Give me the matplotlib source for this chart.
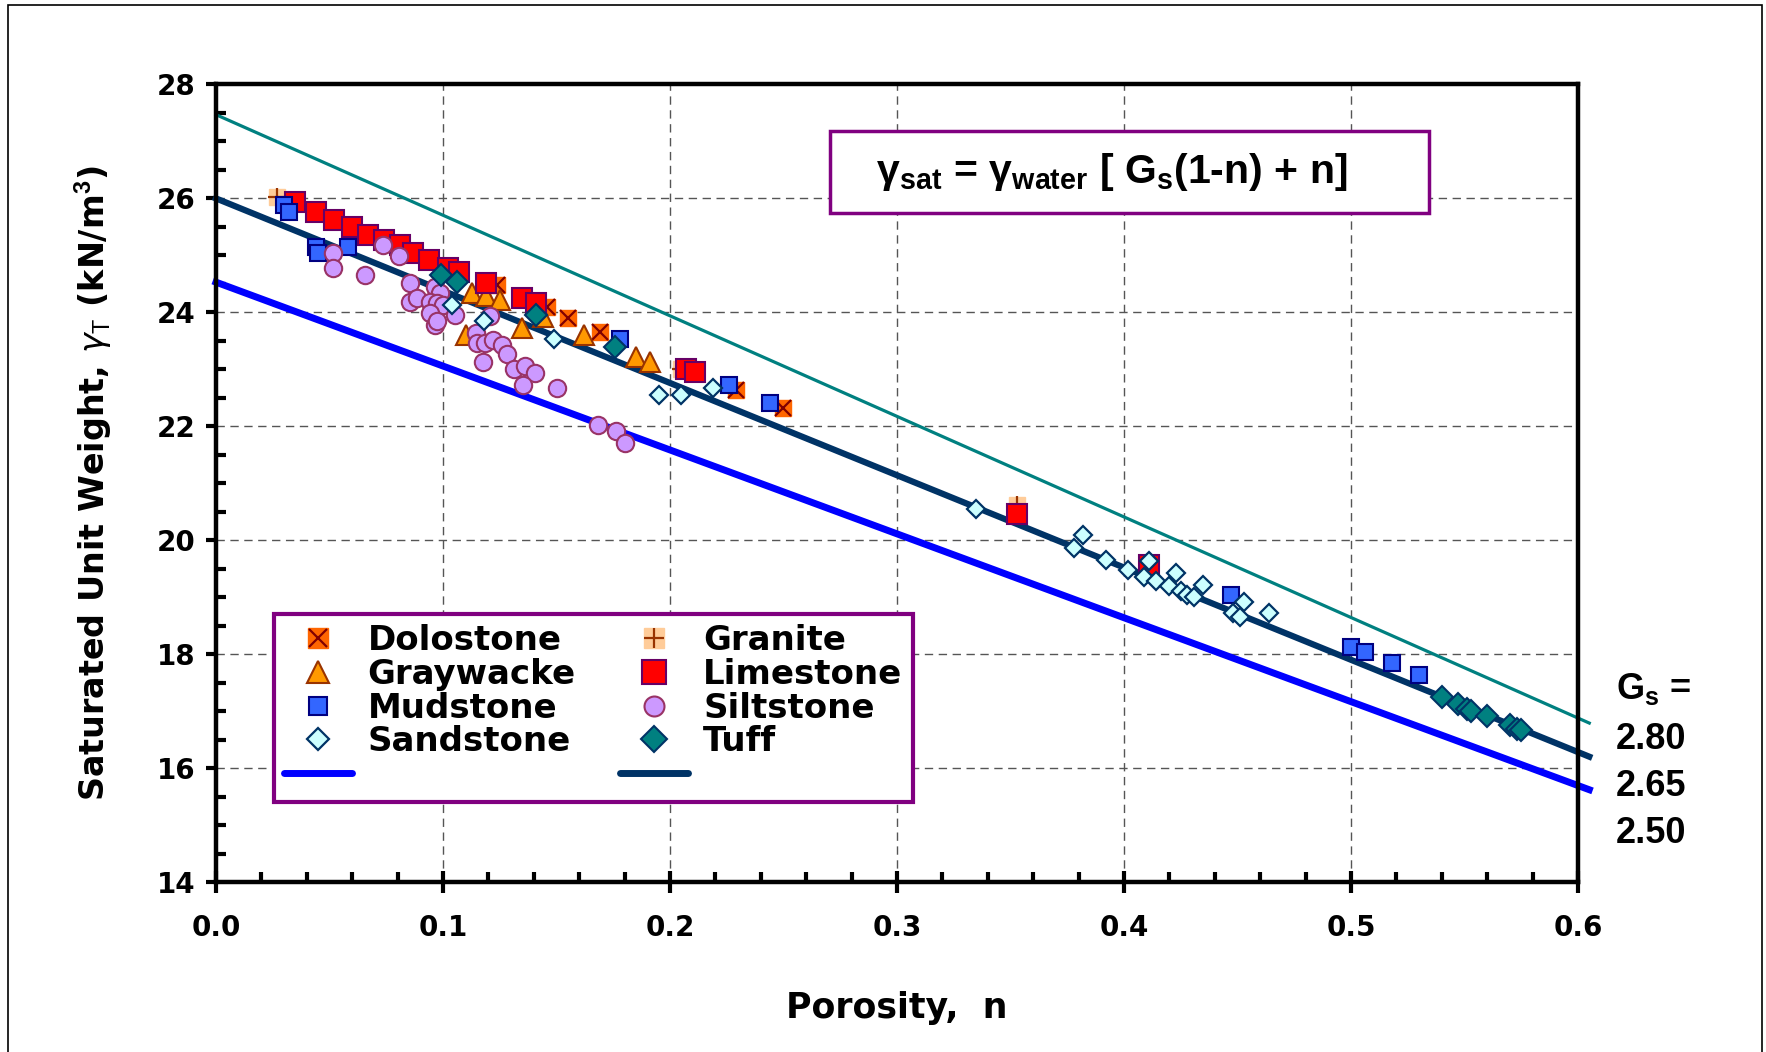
import matplotlib
matplotlib.use("Agg")
import matplotlib.pyplot as plt
from matplotlib.patches import Rectangle
from matplotlib.lines import Line2D
from matplotlib.legend_handler import HandlerTuple

plt.rcParams['font.family'] = ['DejaVu Sans']
plt.rcParams['mathtext.fontset'] = 'custom'
plt.rcParams['mathtext.bf'] = 'Liberation Sans:bold'
plt.rcParams['mathtext.rm'] = 'Liberation Sans'

# ---- data ----
dolo_n = [0.124, 0.146, 0.155, 0.169, 0.229, 0.250, 0.411]
dolo_g = [24.48, 24.10, 23.90, 23.65, 22.64, 22.32, 19.50]

granite_n = [0.027, 0.205, 0.353]
granite_g = [26.02, 23.00, 20.62]

gray_n = [0.110, 0.113, 0.119, 0.125, 0.135, 0.144, 0.162, 0.185, 0.191]
gray_g = [23.60, 24.34, 24.28, 24.22, 23.72, 23.92, 23.60, 23.22, 23.13]

lime_n = [0.035, 0.044, 0.052, 0.060, 0.067, 0.074, 0.081, 0.087, 0.094,
          0.102, 0.107, 0.119, 0.135, 0.141, 0.207, 0.211, 0.353, 0.411]
lime_g = [25.94, 25.77, 25.62, 25.50, 25.36, 25.27, 25.18, 25.04, 24.92,
          24.77, 24.71, 24.51, 24.25, 24.16, 23.00, 22.96, 20.46, 19.56]

mud_n = [0.030, 0.032, 0.044, 0.045, 0.058, 0.178, 0.226, 0.244,
         0.447, 0.500, 0.506, 0.518, 0.530]
mud_g = [25.89, 25.77, 25.15, 25.04, 25.15, 23.53, 22.73, 22.40,
         19.04, 18.13, 18.04, 17.85, 17.64]

silt_n = [0.0517, 0.0514, 0.0656, 0.0734, 0.0808, 0.0855, 0.0855, 0.0884,
          0.0965, 0.0987, 0.0943, 0.0972, 0.1000, 0.0943, 0.0965, 0.0975,
          0.1053, 0.1207, 0.1145, 0.1148, 0.1185, 0.1222, 0.1258, 0.1175,
          0.1281, 0.1313, 0.1361, 0.1405, 0.1354, 0.1501, 0.1684, 0.1762,
          0.1802]
silt_g = [25.04, 24.77, 24.66, 25.18, 24.99, 24.51, 24.19, 24.25,
          24.45, 24.34, 24.19, 24.16, 24.13, 23.98, 23.78, 23.84,
          23.96, 23.93, 23.64, 23.46, 23.46, 23.52, 23.43, 23.12,
          23.26, 23.01, 23.05, 22.93, 22.73, 22.67, 22.02, 21.91,
          21.70]

sand_n = [0.104, 0.118, 0.149, 0.195, 0.205, 0.219, 0.335, 0.382, 0.378,
          0.392, 0.402, 0.411, 0.409, 0.414, 0.423, 0.420, 0.425, 0.428,
          0.431, 0.435, 0.448, 0.453, 0.451, 0.464]
sand_g = [24.13, 23.84, 23.54, 22.55, 22.55, 22.68, 20.55, 20.10, 19.86,
          19.65, 19.47, 19.63, 19.36, 19.28, 19.42, 19.20, 19.10, 19.04,
          19.00, 19.22, 18.72, 18.92, 18.66, 18.72]

tuff_n = [0.099, 0.106, 0.141, 0.176, 0.540, 0.547, 0.551, 0.553,
          0.560, 0.570, 0.573, 0.575]
tuff_g = [24.66, 24.54, 23.95, 23.39, 17.24, 17.12, 17.04, 17.01,
          16.91, 16.75, 16.69, 16.66]

# Gs reference lines (end points)
line_n = [0.0, 0.605]
gs280_g = [27.47, 16.79]
gs265_g = [26.00, 16.20]
gs250_g = [24.53, 15.62]
gs_labels = ['2.80', '2.65', '2.50']

# ---- figure ----
fig = plt.figure(figsize=(17.66, 10.52), dpi=100)
ax = fig.add_axes([0.1223, 0.1616, 0.7712, 0.7581])

ax.set_xlim(0, 0.6)
ax.set_ylim(14, 28)
ax.set_xticks([0, 0.1, 0.2, 0.3, 0.4, 0.5, 0.6])
ax.set_xticklabels(['0.0', '0.1', '0.2', '0.3', '0.4', '0.5', '0.6'])
ax.set_xticks([i * 0.02 for i in range(31)], minor=True)
ax.set_yticks(range(14, 29, 2))
ax.set_yticks([14 + 0.5 * i for i in range(29)], minor=True)

ax.grid(True, which='major', linestyle=(0, (6, 4)), color='#555555', linewidth=1)
ax.set_axisbelow(True)
for s in ax.spines.values():
    s.set_linewidth(3.2)

ax.tick_params(axis='x', which='major', direction='inout', length=16, width=3,
               pad=15, labelsize=20)
ax.tick_params(axis='x', which='minor', direction='in', length=7, width=3)
ax.tick_params(axis='y', which='major', direction='out', length=7, width=3,
               pad=8, labelsize=20)
ax.tick_params(axis='y', which='minor', direction='in', length=7, width=3)
for lab in ax.get_xticklabels() + ax.get_yticklabels():
    lab.set_fontweight('bold')

# Gs lines
l280, = ax.plot(line_n, gs280_g, color='#008080', lw=2.3, clip_on=False, zorder=2)
l265, = ax.plot(line_n, gs265_g, color='#003366', lw=4.5, clip_on=False, zorder=2)
l250, = ax.plot(line_n, gs250_g, color='#0000FF', lw=5, clip_on=False, zorder=2)

# markers
h_gran_sq, = ax.plot(granite_n, granite_g, 's', ms=12, mfc='#FFCC99', mec='#FFCC99', zorder=3)
h_gran_pl, = ax.plot(granite_n, granite_g, '+', ms=13, mec='#993300', mew=1.6, zorder=3)
h_dolo_sq, = ax.plot(dolo_n, dolo_g, 's', ms=12, mfc='#FF6600', mec='#FF6600', zorder=3)
h_dolo_x, = ax.plot(dolo_n, dolo_g, 'x', ms=11, mec='#800000', mew=1.6, zorder=3)
h_gray, = ax.plot(gray_n, gray_g, '^', ms=14, mfc='#FF9900', mec='#993300', mew=1.5, zorder=4)
h_lime, = ax.plot(lime_n, lime_g, 's', ms=14.5, mfc='#FF0000', mec='#660066', mew=1.5, zorder=4)
h_mud, = ax.plot(mud_n, mud_g, 's', ms=11.5, mfc='#3366FF', mec='#000080', mew=1.5, zorder=5)
h_silt, = ax.plot(silt_n, silt_g, 'o', ms=12.5, mfc='#CC99FF', mec='#993366', mew=1.5, zorder=5)
h_sand, = ax.plot(sand_n, sand_g, 'D', ms=9.5, mfc='#CCFFFF', mec='#003366', mew=1.6, zorder=6)
h_tuff, = ax.plot(tuff_n, tuff_g, 'D', ms=11.5, mfc='#008080', mec='#003366', mew=1.5, zorder=6)

# legend
handles = [(h_dolo_sq, h_dolo_x), h_gray, h_mud, h_sand,
           Line2D([], [], color='#0000FF', lw=5, solid_capstyle='round'),
           (h_gran_sq, h_gran_pl), h_lime, h_silt, h_tuff,
           Line2D([], [], color='#003366', lw=5, solid_capstyle='round')]
labels = ['Dolostone', 'Graywacke', 'Mudstone', 'Sandstone', ' ',
          'Granite', 'Limestone', 'Siltstone', 'Tuff', ' ']
leg = ax.legend(handles, labels, ncol=2, loc='upper left',
                bbox_to_anchor=(0.0426, 0.336), borderaxespad=0,
                handler_map={tuple: HandlerTuple(ndivide=1)},
                prop={'weight': 'bold', 'size': 24.5}, labelspacing=0.02,
                handlelength=2.0, handletextpad=0.45, columnspacing=1.3,
                borderpad=0.3, fancybox=False, framealpha=1, markerscale=1.15)
leg.get_frame().set_edgecolor('#800080')
leg.get_frame().set_linewidth(3)
leg.set_zorder(10)

# formula box
ax.add_patch(Rectangle((0.451, 0.839), 0.4396, 0.1027, transform=ax.transAxes,
                       facecolor='white', edgecolor='#800080', lw=2.5,
                       clip_on=False, zorder=8))
ax.text(0.658, 0.89, r'γ$_{\mathbf{sat}}$ = γ$_{\mathbf{water}}$ [ G$_{\mathbf{s}}$(1-n) + n]',
        transform=ax.transAxes, ha='center', va='center', fontsize=29.5,
        fontweight='bold', family='Liberation Sans', zorder=9)

# Gs labels
fig.text(0.915, 0.345, r'G$_{\mathbf{s}}$ =', fontsize=26, fontweight='bold',
         family='Liberation Sans', va='center', ha='left')
for lab, yy in zip(gs_labels, [0.297, 0.252, 0.208]):
    fig.text(0.915, yy, lab, fontsize=26, fontweight='bold',
             family='Liberation Sans', va='center', ha='left')

# axis labels
ax.set_xlabel('Porosity,  n', fontsize=25, fontweight='bold', labelpad=35)
ax.set_ylabel(r'Saturated Unit Weight, $\gamma_{\mathrm{T}}$ (kN/m$^{\mathbf{3}}$)',
              fontsize=24, fontweight='bold', labelpad=30)

# outer border
fig.patches.append(Rectangle((8 / 1766, -0.01), (1762 - 8) / 1766, 1.01 - 5 / 1052,
                             transform=fig.transFigure, fill=False,
                             edgecolor='black', lw=1.2))

fig.savefig('out.png', dpi=100)
